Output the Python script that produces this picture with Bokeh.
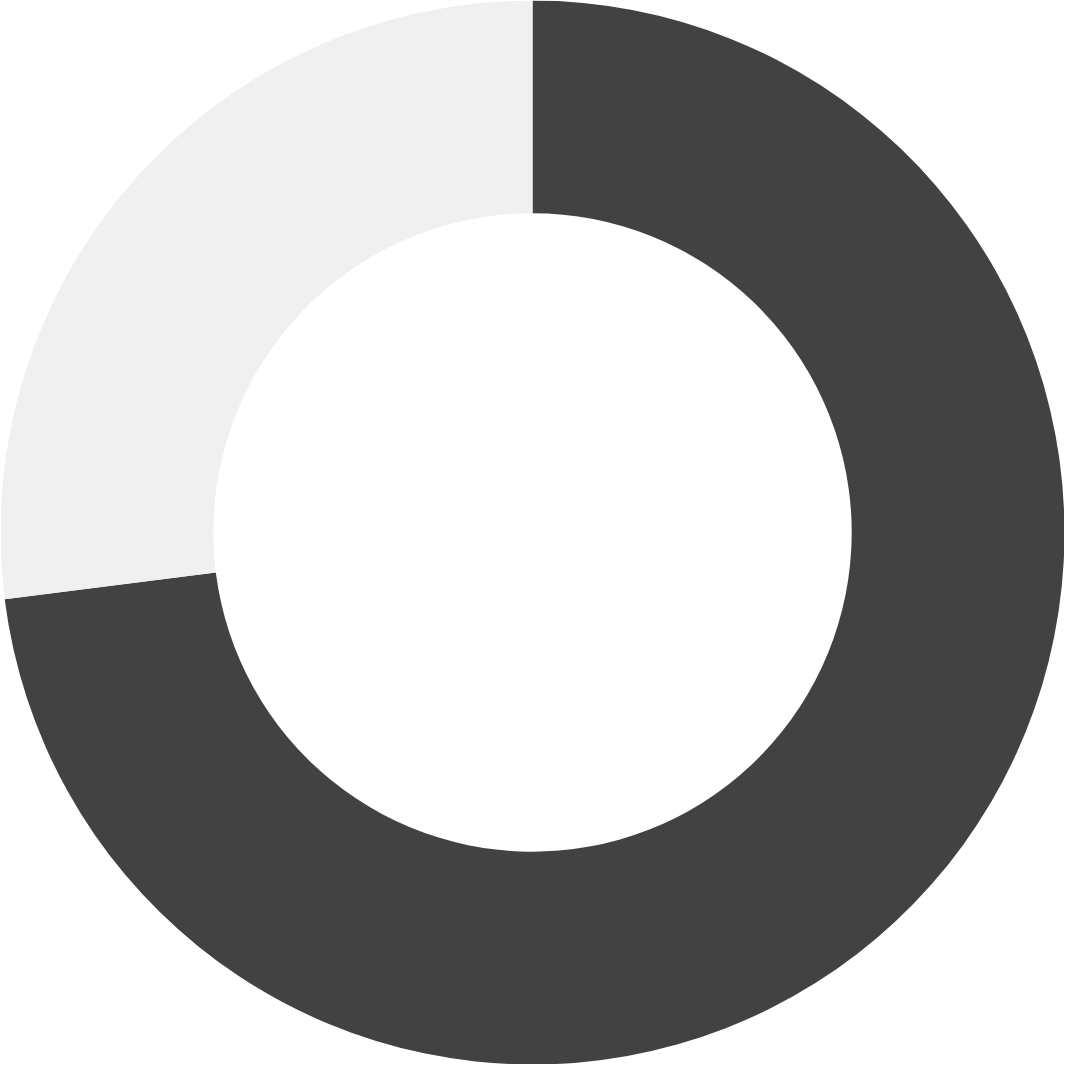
import math
from bokeh.plotting import figure
from bokeh.models import Range1d, ColumnDataSource
from bokeh.embed import file_html
from bokeh.resources import INLINE

categories = ["A", "B"]
values = [73, 27]
colors = ["#424242", "#f0f0f0"]

total = sum(values)
starts, ends = [], []
cum = 0.0
for v in values:
    starts.append(math.pi / 2 - 2 * math.pi * cum / total)
    cum += v
    ends.append(math.pi / 2 - 2 * math.pi * cum / total)

src = ColumnDataSource(dict(cat=categories, val=values, start=starts, end=ends, color=colors))

p = figure(width=1064, height=1064, output_backend="svg", toolbar_location=None,
           x_range=Range1d(-1, 1), y_range=Range1d(-1, 1),
           min_border=0, outline_line_color=None)
p.annular_wedge(x=0, y=0, inner_radius=0.6, outer_radius=1.0,
                start_angle="start", end_angle="end", direction="clock",
                fill_color="color", line_color=None, source=src)
p.axis.visible = False
p.grid.visible = False
p.background_fill_color = "white"
p.border_fill_color = "white"

open("out.html", "w").write(file_html(p, INLINE))
